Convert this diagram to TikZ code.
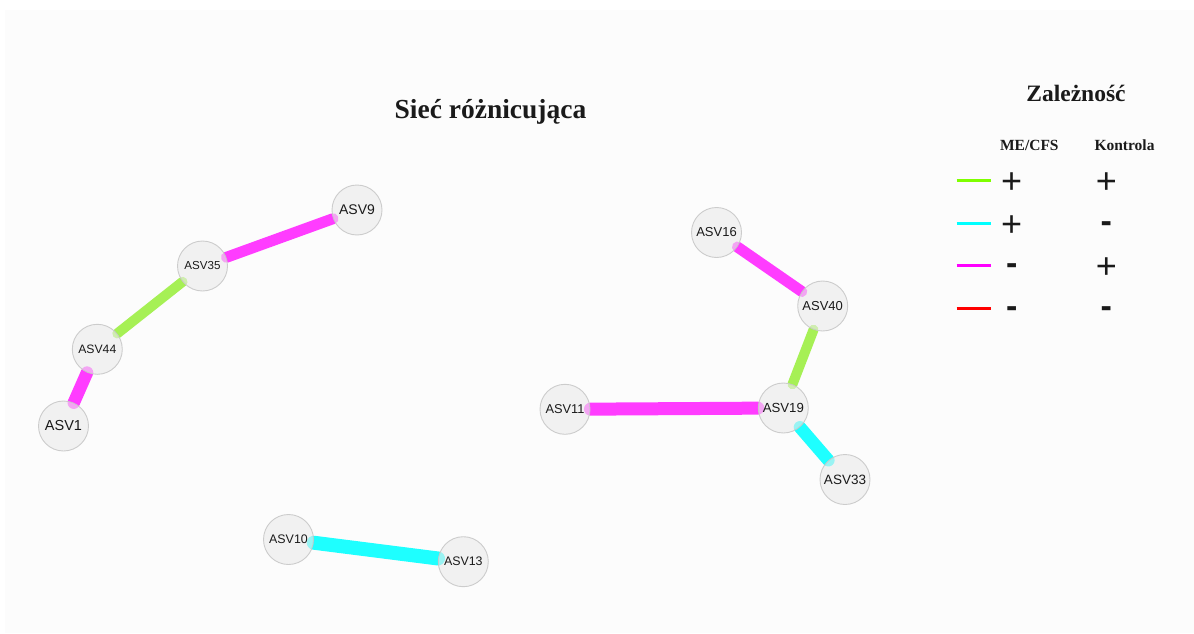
\documentclass[tikz,border=0pt]{standalone}
\usepackage{fontspec}
\setmainfont{Liberation Serif}
\newfontfamily\arial{Liberation Sans}
\definecolor{bgc}{HTML}{FCFCFC}
\definecolor{nodefill}{HTML}{EBEBEB}
\definecolor{nodedraw}{HTML}{C8C8C8}
\definecolor{egreen}{HTML}{A6F055}
\definecolor{emag}{HTML}{FF3CFF}
\definecolor{ecyan}{HTML}{1EFFFF}
\definecolor{lgreen}{HTML}{7FFF00}
\definecolor{lcyan}{HTML}{00FFFF}
\definecolor{lmag}{HTML}{FF00FF}
\definecolor{lred}{HTML}{FF0000}
\definecolor{txt}{HTML}{1A1A1A}
\pgfdeclarelayer{bg}
\pgfsetlayers{bg,main}
\tikzset{
  asv/.style={circle, minimum size=50pt, inner sep=0pt, fill=nodefill, fill opacity=0.6, text opacity=1, draw=nodedraw, draw opacity=0.9, line width=0.9pt, text=txt, font=\arial\fontsize{#1}{#1}\selectfont},
  asv/.default=12,
  link/.style={line width=#1, line cap=round},
  legline/.style={line width=2.5pt},
  sign/.style={anchor=base, inner sep=0pt, text=txt, font=\arial\fontsize{36}{36}\selectfont},
  minus/.style={anchor=base, inner sep=0pt, text=txt, font=\arial\bfseries\fontsize{34}{34}\selectfont},
  head/.style={anchor=base, inner sep=0pt, text=txt, font=\bfseries\fontsize{15.5}{15.5}\selectfont},
}
\begin{document}
\begin{tikzpicture}[x=1pt,y=-1pt]
\useasboundingbox (0,0) rectangle (1194,634);
\begin{pgfonlayer}{bg}
\fill[white] (0,0) rectangle (1194,634);
\fill[bgc] (5,10) rectangle (1194,633);
\end{pgfonlayer}

% title
\node[anchor=base, inner sep=0pt, text=txt, font=\bfseries\fontsize{27.5}{27.5}\selectfont] (title) at (490.5,118.3) {Sieć różnicująca};

% nodes
\node[asv=14] (n9) at (357,210) {ASV9};
\node[asv=11.6] (n35) at (202.5,266) {ASV35};
\node[asv=12.2] (n44) at (97.3,349.3) {ASV44};
\node[asv=14.5] (n1) at (63.5,426) {ASV1};
\node[asv=13] (n16) at (716.5,232.5) {ASV16};
\node[asv=13] (n40) at (822.7,306) {ASV40};
\node[asv=12.8] (n11) at (565,409.3) {ASV11};
\node[asv=13.2] (n19) at (783.3,408) {ASV19};
\node[asv=13.5] (n33) at (845,479.5) {ASV33};
\node[asv=12.4] (n10) at (288.5,539.5) {ASV10};
\node[asv=12.4] (n13) at (463.3,561.7) {ASV13};

% edges
\begin{pgfonlayer}{bg}
\draw[link=11pt, emag] (n9) -- (n35);
\draw[link=10pt, egreen] (n35) -- (n44);
\draw[link=12.5pt, emag] (n44) -- (n1);
\draw[link=11pt, emag] (n16) -- (n40);
\draw[link=10pt, egreen] (n40) -- (n19);
\draw[link=13pt, emag] (n11) -- (n19);
\draw[link=12.5pt, ecyan] (n19) -- (n33);
\draw[link=14pt, ecyan] (n10) -- (n13);
\end{pgfonlayer}

% legend
\node[anchor=base, inner sep=0pt, text=txt, font=\bfseries\fontsize{23.5}{23.5}\selectfont] (legtitle) at (1076,101) {Zależność};
\node[head] (hme) at (1029.3,150.3) {ME/CFS};
\node[head] (hko) at (1124.5,150.3) {Kontrola};

\coordinate (l1a) at (956.7,180.5); \coordinate (l1b) at (990.7,180.5);
\coordinate (l2a) at (956.7,223.7); \coordinate (l2b) at (990.7,223.7);
\coordinate (l3a) at (956.7,265.7); \coordinate (l3b) at (990.7,265.7);
\coordinate (l4a) at (956.7,308.5); \coordinate (l4b) at (990.7,308.5);
\draw[legline, lgreen] (l1a) -- (l1b);
\draw[legline, lcyan] (l2a) -- (l2b);
\draw[legline, lmag] (l3a) -- (l3b);
\draw[legline, lred] (l4a) -- (l4b);

\node[sign] (s1a) at (1011.7,193.6) {+};
\node[sign] (s1b) at (1106.3,193.6) {+};
\node[sign] (s2a) at (1011.7,236) {+};
\node[minus] (s2b) at (1106.3,232.7) {-};
\node[minus] (s3a) at (1011.7,274.5) {-};
\node[sign] (s3b) at (1106.3,278.6) {+};
\node[minus] (s4a) at (1011.7,317.3) {-};
\node[minus] (s4b) at (1106.3,317.3) {-};
\end{tikzpicture}
\end{document}
